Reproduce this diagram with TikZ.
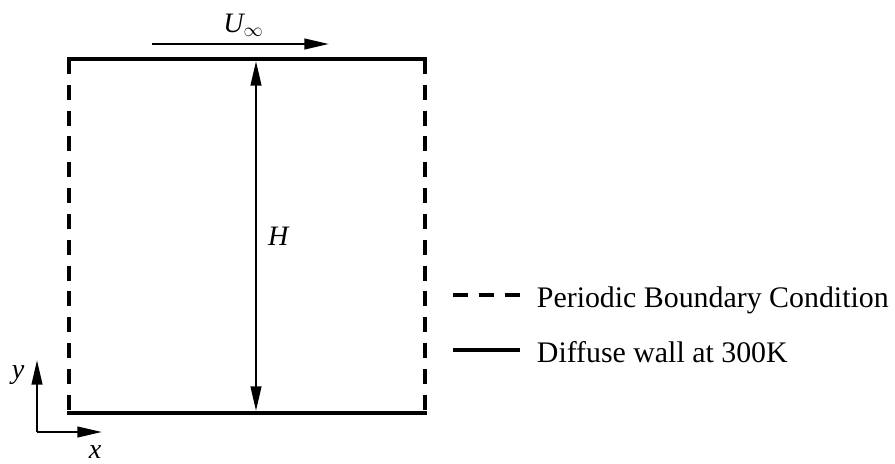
\documentclass[tikz,border=0pt]{standalone}
\usepackage{fontspec}
\setmainfont{Liberation Serif}
\usetikzlibrary{positioning,arrows.meta}

\begin{document}
\begin{tikzpicture}[
                  x=0.02cm,y=-0.02cm,
                  wall/.style={line width=2.2pt,line cap=rect},
                  periodic/.style={line width=2.2pt,dash pattern=on 8.5pt off 6.2pt},
                  arr/.style={-{Triangle[length=14pt,width=6pt]},line width=1.4pt},
                  darr/.style={{Triangle[length=14pt,width=6pt]}-{Triangle[length=14pt,width=6pt]},line width=1.4pt},
                  lbl/.style={font=\fontsize{16}{19}\selectfont\itshape,inner sep=0pt},
                  leg/.style={font=\fontsize{17}{20}\selectfont,inner sep=0pt,anchor=base west,xshift=0.3cm,yshift=-0.24cm}
                ]
                \useasboundingbox (0,0) rectangle (895,463);
                % channel walls
                \coordinate (tl) at (69,59);
                \coordinate (tr) at (425,59);
                \coordinate (bl) at (69,413);
                \coordinate (br) at (425,413);
                \draw[periodic] (tl) -- (bl);
                \draw[periodic] (tr) -- (br);
                \draw[wall] (tl) -- (tr);
                \draw[wall] (bl) -- (br);
                
                % height and free stream
                \coordinate (htop) at (256,61);
                \coordinate (hbot) at (256,411);
                \draw[darr] (htop) -- node[lbl,anchor=west,xshift=0.22cm] (hlab) {H} (hbot);
                \coordinate (ustart) at (152,44);
                \coordinate (uend) at (329,44);
                \draw[arr] (ustart) -- node[lbl,anchor=base,xshift=0.06cm,yshift=0.24cm] (ulab) {U$_\infty$} (uend);
                
                % axes
                \coordinate (org) at (37,432);
                \coordinate (ytip) at (37,360);
                \coordinate (xtip) at (102,432);
                \draw[arr] (org) -- (ytip);
                \draw[arr] (org) -- (xtip);
                \node[lbl,anchor=base] (ylab) at (18,378) {y};
                \node[lbl,anchor=base] (xlab) at (95,458) {x};
                
                % legend
                \coordinate (pa) at (453,295);
                \coordinate (pb) at (520,295);
                \coordinate (sa) at (453,350);
                \coordinate (sb) at (520,350);
                \draw[periodic] (pa) -- (pb) node[leg] (plab) {Periodic Boundary Condition};
                \draw[line width=2.2pt] (sa) -- (sb) node[leg] (slab) {Diffuse wall at 300K};
                \end{tikzpicture}
\end{document}
